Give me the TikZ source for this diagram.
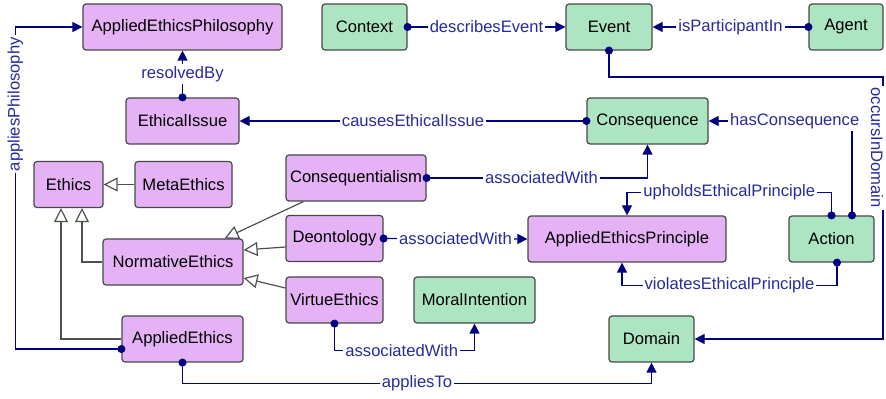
\documentclass[tikz,border=0pt]{standalone}
\usepackage{fontspec}
\setmainfont{Liberation Sans}
\usepackage{xcolor}
\usetikzlibrary{calc}
\usetikzlibrary{arrows.meta}
\definecolor{ethicscolor}{HTML}{E5B3F5}
\definecolor{worldcolor}{HTML}{ADE5C3}
\definecolor{linkcolor}{HTML}{000080}
\definecolor{linktext}{HTML}{2A2A9C}
\definecolor{isacolor}{HTML}{505050}
\tikzstyle{ethbox} =[
    draw=black!72,
    fill=ethicscolor,
    rounded corners=1.5pt,
    line width=0.6pt,
    inner sep=0pt,
    minimum height=23pt,
    font=\fontsize{8.3}{10}\selectfont
    ]
\tikzstyle{worldbox} =[
    ethbox,
    fill=worldcolor
    ]
\tikzstyle{rel} =[
    draw=linkcolor,
    line width=0.6pt,
    shorten <=-2pt,
    {Circle[length=4pt]}-{Triangle[length=5pt,width=5pt]}
    ]
\tikzstyle{isa} =[
    draw=isacolor,
    line width=0.6pt,
    -{Triangle[open,length=7pt,width=7pt,fill=white]}
    ]
\tikzstyle{rellabel} =[
    fill=white,
    text=linktext,
    inner sep=1pt,
    font=\fontsize{8.3}{10}\selectfont
    ]

\begin{document}
\begin{tikzpicture}[x=0.5pt,y=-0.5pt]
\useasboundingbox (0,0) rectangle (886,399);

% ethics classes
\node[ethbox, minimum width=99.5pt] (aephil) at (182.5,27) {AppliedEthicsPhilosophy};
\node[ethbox, minimum width=56.5pt] (issue) at (182.5,121) {EthicalIssue};
\node[ethbox, minimum width=34.5pt] (ethics) at (68.5,184.5) {Ethics};
\node[ethbox, minimum width=48.5pt] (meta) at (183.5,184.5) {MetaEthics};
\node[ethbox, minimum width=70pt] (conseq) at (356,178) {Consequentialism};
\node[ethbox, minimum width=70pt] (normative) at (173,262) {NormativeEthics};
\node[ethbox, minimum width=48.5pt] (deon) at (334.5,238.5) {Deontology};
\node[ethbox, minimum width=48.5pt] (virtue) at (334.5,300) {VirtueEthics};
\node[ethbox, minimum width=60.5pt] (applied) at (182.5,339) {AppliedEthics};
\node[ethbox, minimum width=99pt] (principle) at (627,239) {AppliedEthicsPrinciple};

% world classes
\node[worldbox, minimum width=42.5pt] (context) at (364.5,27) {Context};
\node[worldbox, minimum width=43pt] (event) at (609,27) {Event};
\node[worldbox, minimum width=37pt] (agent) at (846,27) {Agent};
\node[worldbox, minimum width=60.5pt] (consequence) at (647.5,121) {Consequence};
\node[worldbox, minimum width=60.5pt] (intention) at (474.5,300) {MoralIntention};
\node[worldbox, minimum width=42.5pt] (action) at (831.5,239) {Action};
\node[worldbox, minimum width=42.5pt] (domain) at (651.5,339) {Domain};

% subclass links
\draw[isa] (meta.west) -- (ethics.east);
\draw[isa] (normative.west) -| ($(ethics.south)+(13.5,0)$);
\draw[isa] (applied.west) -| ($(ethics.south)+(-7.5,0)$);
\draw[isa] ($(conseq.south west)+(18,0)$) -- ($(normative.north east)+(-19,0)$);
\draw[isa] ($(deon.west)+(0,8.5)$) -- ($(normative.east)+(0,-12)$);
\draw[isa] ($(virtue.west)+(0,-12)$) -- ($(normative.east)+(0,16)$);

% object properties
\draw[rel] ($(applied.west)+(0,10)$) -- ++(-106,0) |- (aephil.west)
    node[rellabel, pos=0.38, rotate=90] {appliesPhilosophy};
\draw[rel] (issue.north) -- (aephil.south) node[rellabel, midway] {resolvedBy};
\draw[rel] (context.east) -- (event.west) node[rellabel, midway] {describesEvent};
\draw[rel] (agent.west) -- (event.east) node[rellabel, midway] {isParticipantIn};
\coordinate (domaincorner) at (883,77);
\draw[rel] (event.south) |- (domaincorner) |- (domain.east)
    node[rellabel, pos=0.135, xshift=-3pt, rotate=-90] {occursInDomain};
\draw[rel] (consequence.west) -- (issue.east) node[rellabel, midway] {causesEthicalIssue};
\draw[rel] ($(action.north)+(20.5,0)$) |- (consequence.east)
    node[rellabel, pos=0.7] {hasConsequence};
\draw[rel] (conseq.east) -| (consequence.south) node[rellabel, pos=0.26] {associatedWith};
\draw[rel] (action.north) -- ++(0,-23) -| (principle.north)
    node[rellabel, pos=0.25] {upholdsEthicalPrinciple};
\draw[rel] ($(action.south)+(5.5,0)$) -- ++(0,23) -| ($(principle.south)+(-5,0)$)
    node[rellabel, pos=0.25] {violatesEthicalPrinciple};
\draw[rel] (deon.east) -- (principle.west) node[rellabel, midway] {associatedWith};
\draw[rel] (virtue.south) -- ++(0,27) -| (intention.south)
    node[rellabel, pos=0.24] {associatedWith};
\draw[rel] (applied.south) -- ++(0,21) -| (domain.south)
    node[rellabel, pos=0.25] {appliesTo};

\end{tikzpicture}
\end{document}
